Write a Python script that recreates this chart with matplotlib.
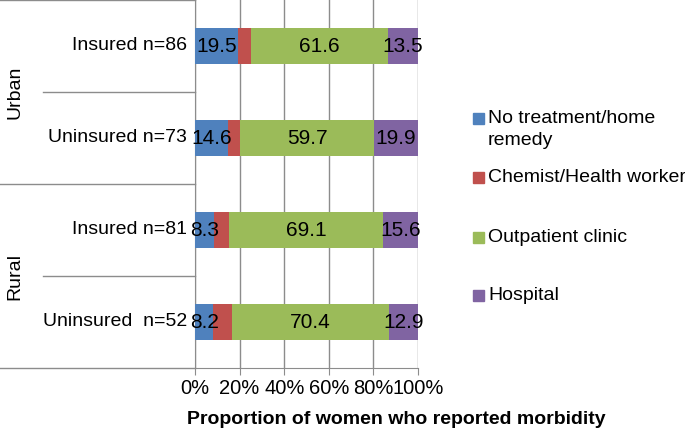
import numpy as np
import matplotlib.pyplot as plt
from matplotlib.patches import Rectangle

plt.rcParams['font.family'] = ['Liberation Sans', 'DejaVu Sans']

# Data
# ------------------------------------------------------------------------

groups = ['Urban', 'Rural']
categories = ['Insured n=86', 'Uninsured n=73', 'Insured n=81', 'Uninsured  n=52']
series = ['No treatment/home\nremedy', 'Chemist/Health worker', 'Outpatient clinic', 'Hospital']
no_treatment = [19.5, 14.6, 8.3, 8.2]
chemist = [5.4, 5.8, 7.0, 8.5]
outpatient = [61.6, 59.7, 69.1, 70.4]
hospital = [13.5, 19.9, 15.6, 12.9]
show_labels = [True, False, True, True]
colors = ['#4F81BD', '#C0504D', '#9BBB59', '#8064A2']
xticks = [0, 20, 40, 60, 80, 100]

# Plot
# ------------------------------------------------------------------------

W, H = 685, 434
fig = plt.figure(figsize=(W / 100, H / 100), dpi=100)
ax = fig.add_axes([195 / W, 66 / H, 223 / W, 368 / H])

line_col = '#8c8c8c'
y = np.arange(len(categories))[::-1]
left = np.zeros(len(categories))
for vals, name, col, lab in zip([no_treatment, chemist, outpatient, hospital],
                                series, colors, show_labels):
    bars = ax.barh(y, vals, left=left, height=0.39, color=col, label=name, zorder=3)
    if lab:
        for b, v in zip(bars, vals):
            ax.text(b.get_x() + b.get_width() / 2, b.get_y() + b.get_height() / 2,
                    f'{v:.1f}', ha='center', va='center', fontsize=15, zorder=4)
    left += np.array(vals)

ax.set_xlim(0, 100)
ax.set_ylim(-0.5, 3.5)
ax.set_xticks(xticks)
ax.set_xticklabels([f'{t}%' for t in xticks], fontsize=14.5)
ax.set_yticks([])
ax.grid(axis='x', color=line_col, linewidth=1, zorder=0)
ax.tick_params(axis='x', length=5, color=line_col, pad=3)
for s in ['top', 'right']:
    ax.spines[s].set_visible(False)
for s in ['left', 'bottom']:
    ax.spines[s].set_color(line_col)
fig.text(396 / W, 1 - 419 / H, 'Proportion of women who reported morbidity',
         ha='center', va='center', fontsize=14, fontweight='bold')

# category labels and group frame
for yi, cat in zip(y, categories):
    ax.text(-0.035, (yi + 0.5) / 4, cat, transform=ax.transAxes,
            ha='right', va='center', fontsize=14)
x_full = -195 / 223
x_inner = -152 / 223
for yy, x0 in [(1.0, x_full), (0.75, x_inner), (0.5, x_full), (0.25, x_inner), (0.0, x_full)]:
    ax.plot([x0, 0], [yy, yy], transform=ax.transAxes, color=line_col,
            linewidth=1, clip_on=False)
for gi, g in enumerate(groups):
    ax.text(-180 / 223, 0.75 - gi * 0.5, g, transform=ax.transAxes, rotation=90,
            ha='center', va='center', fontsize=14)

# legend, drawn by hand so the swatch sits on the first text line
legend_y = [118, 177, 237, 295]
for name, col, ly in zip(series, colors, legend_y):
    fig.patches.append(Rectangle((473 / W, 1 - (ly + 6) / H), 11 / W, 11 / H,
                                 transform=fig.transFigure, color=col))
    fig.text(488 / W, 1 - (ly - 8) / H, name, ha='left', va='top',
             fontsize=14, linespacing=1.4)

plt.savefig('out.png', dpi=100)
